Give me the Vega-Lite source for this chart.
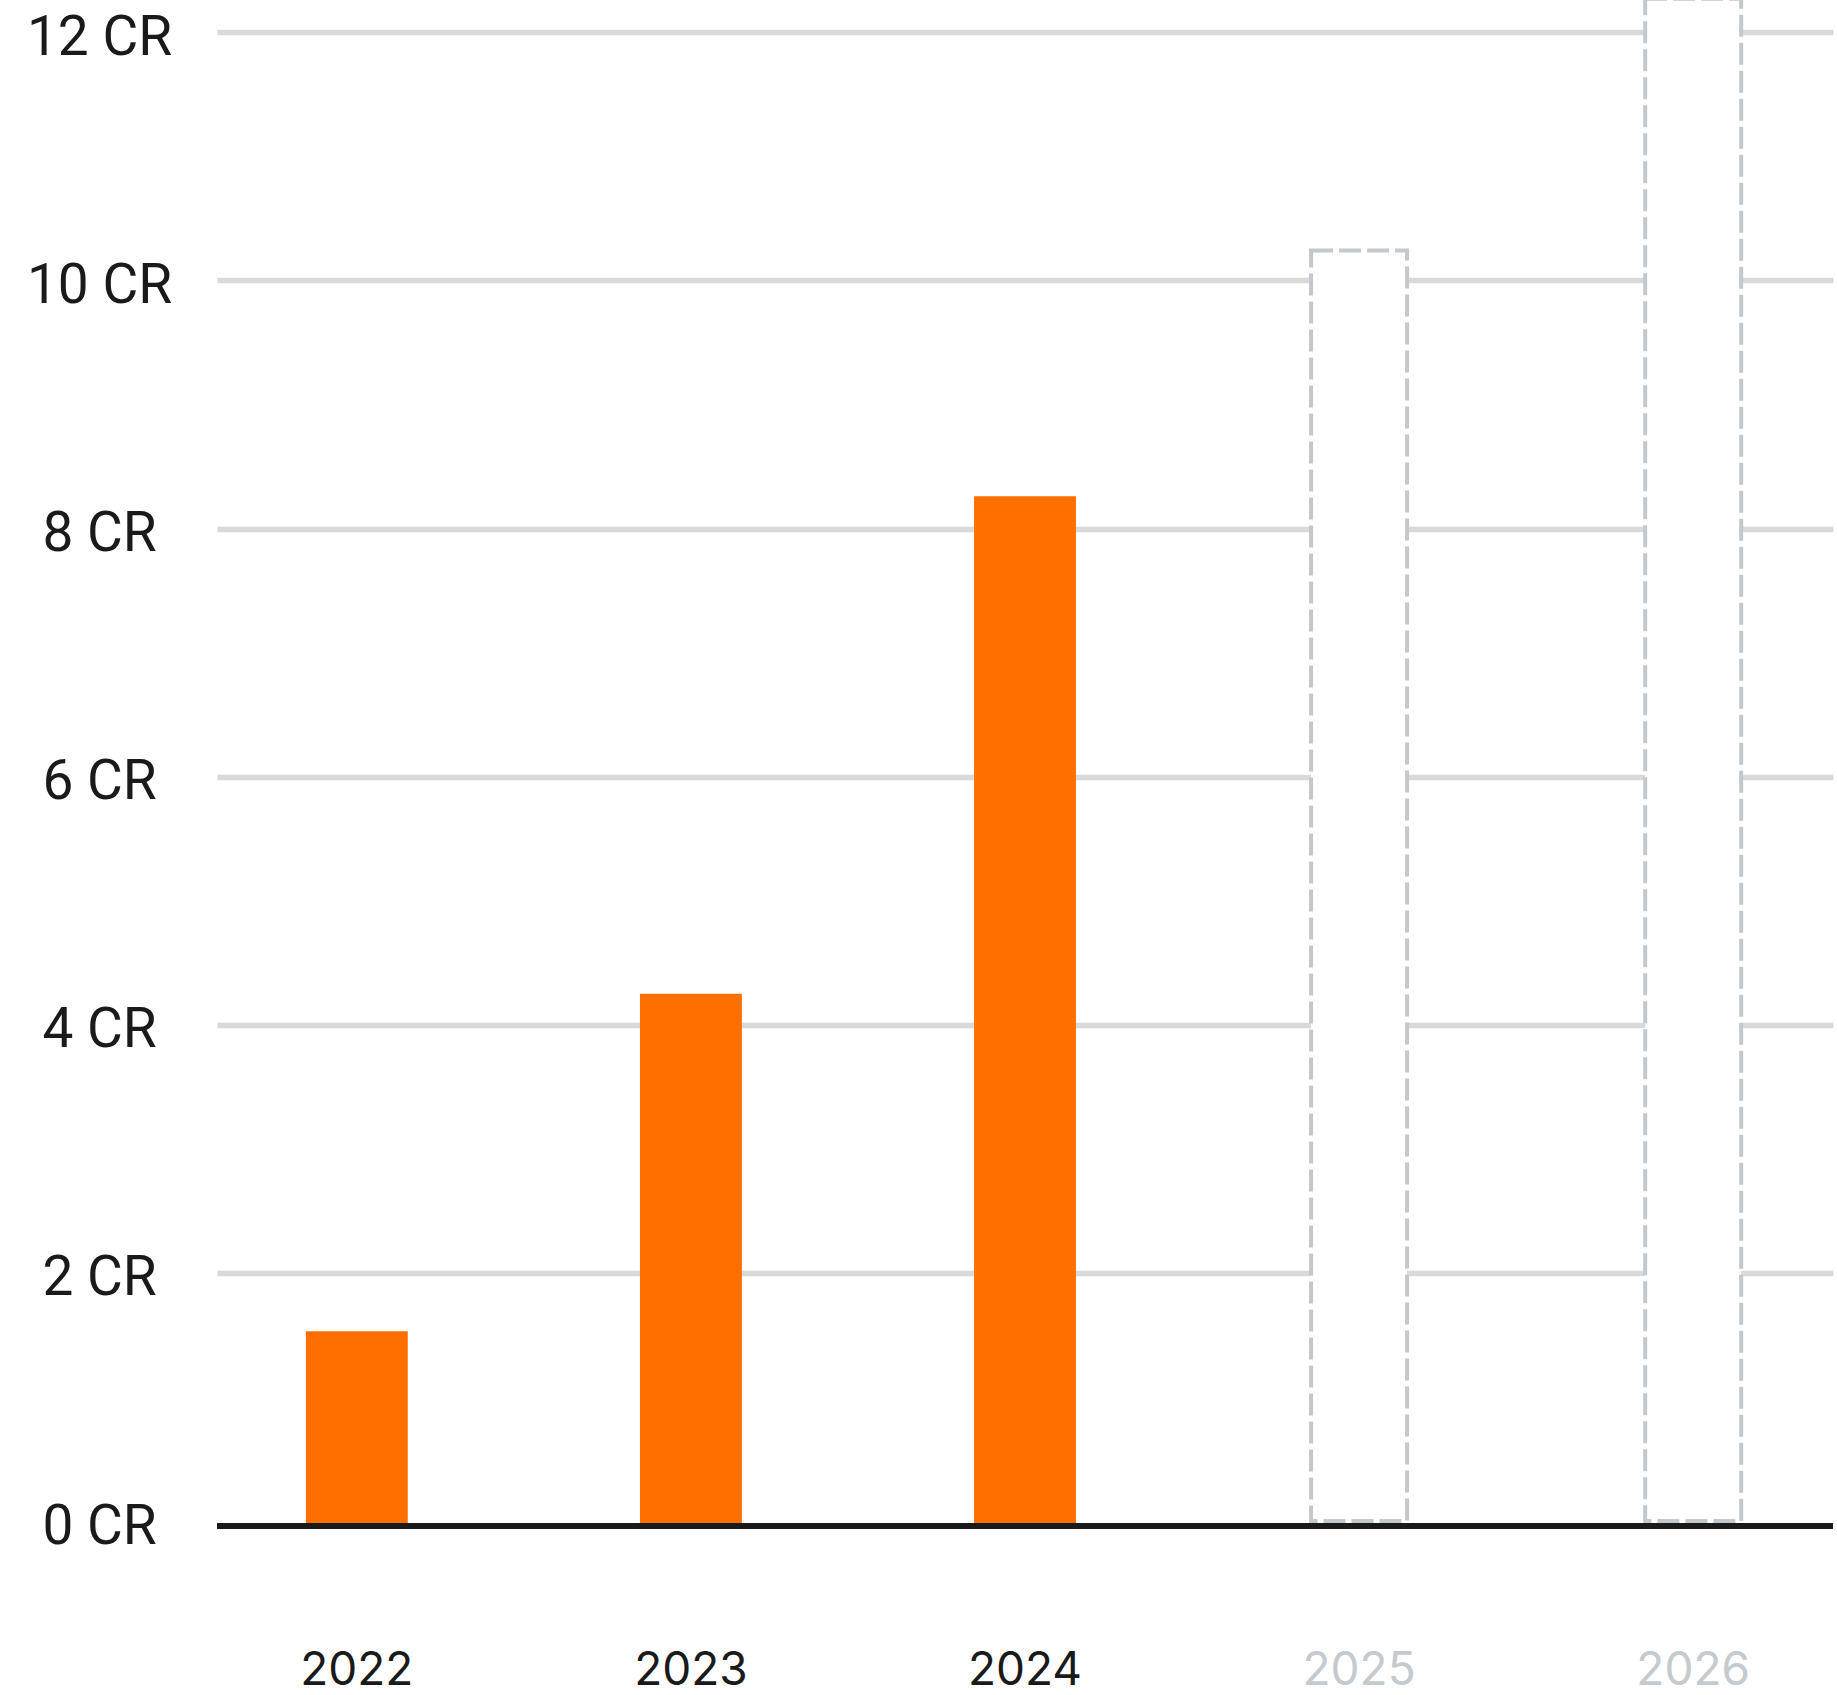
{
  "$schema": "https://vega.github.io/schema/vega-lite/v6.json",
  "autosize": {"type": "none"},
  "padding": {"left": 217, "top": 0, "right": 4, "bottom": 174},
  "width": 1616,
  "height": 1521,
  "background": "#ffffff",
  "config": {"view": {"stroke": null}, "font": "Roboto"},
  "data": {
    "values": [
      {"year": "2022", "value": 1.53, "kind": "actual"},
      {"year": "2023", "value": 4.25, "kind": "actual"},
      {"year": "2024", "value": 8.26, "kind": "actual"},
      {"year": "2025", "value": 10.24, "kind": "projected"},
      {"year": "2026", "value": 12.27, "kind": "projected"}
    ]
  },
  "encoding": {
    "x": {
      "field": "year",
      "type": "ordinal",
      "scale": {"paddingInner": 0.695, "paddingOuter": 0.266},
      "axis": {
        "title": null,
        "domain": false,
        "ticks": false,
        "grid": false,
        "labelAngle": 0,
        "labelFont": "Inter",
        "labelFontSize": 46,
        "labelBaseline": "alphabetic",
        "labelPadding": 163,
        "labelColor": {"condition": {"test": "datum.value == '2025' || datum.value == '2026'", "value": "#c4cace"}, "value": "#1a1a1a"}
      }
    },
    "y": {
      "field": "value",
      "type": "quantitative",
      "scale": {"domain": [0, 12.26], "nice": false, "zero": true},
      "axis": {
        "title": null,
        "values": [0, 2, 4, 6, 8, 10, 12],
        "domain": false,
        "ticks": false,
        "grid": true,
        "gridColor": {"condition": {"test": "datum.value == 0", "value": "transparent"}, "value": "#d9d9d9"},
        "gridWidth": 5.5,
        "labelExpr": "datum.value + ' CR'",
        "labelFont": "Roboto",
        "labelFontSize": 55,
        "labelColor": "#1a1a1a",
        "labelAlign": "center",
        "labelBaseline": "middle",
        "labelPadding": 118,
        "labelOffset": 5
      }
    }
  },
  "layer": [
    {
      "transform": [{"filter": "datum.kind == 'actual'"}],
      "mark": {"type": "bar", "color": "#ff6f00"},
      "encoding": {"y2": {"datum": -0.02}}
    },
    {
      "transform": [{"filter": "datum.kind == 'projected'"}],
      "mark": {"type": "bar", "fill": "#ffffff", "stroke": "#c2c8cb", "strokeWidth": 4, "strokeDash": [22, 6], "width": 96}
    },
    {
      "mark": {"type": "rule", "color": "#1a1a1a", "strokeWidth": 6, "yOffset": 5},
      "encoding": {"y": {"datum": 0}, "x": null}
    }
  ]
}
